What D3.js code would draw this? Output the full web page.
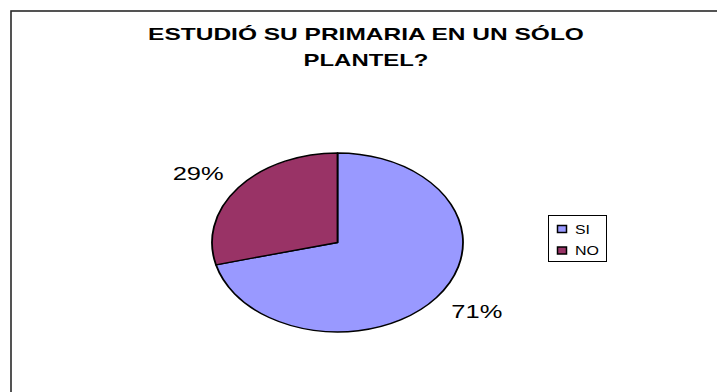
<!DOCTYPE html>
<html>
<head>
<meta charset="utf-8">
<script src="https://cdn.jsdelivr.net/npm/d3@7"></script>
<style>
  html, body { margin: 0; padding: 0; background: #fff; }
  svg { display: block; font-family: "Liberation Sans", Arial, sans-serif; }
</style>
</head>
<body>
<svg id="chart" width="717" height="392"></svg>
<script>
// Survey answers: share of respondents (percent)
const categories = ["SI", "NO"];
const values = [71, 29];
const colors = ["#9999FF", "#993366"];
const titleLines = ["ESTUDIÓ SU PRIMARIA EN UN SÓLO", "PLANTEL?"];

const svg = d3.select("#chart");

// Stretch a text element horizontally so it spans `width` px, centred on x
function fitWidth(sel, x, y, width) {
  sel.each(function () {
    const natural = this.getComputedTextLength();
    const s = width / natural;
    d3.select(this)
      .attr("x", 0).attr("y", 0)
      .attr("text-anchor", "middle")
      .attr("transform", `translate(${x},${y}) scale(${s},1)`);
  });
}

// Chart area frame (runs off the right and bottom edges)
svg.append("rect")
  .attr("x", 11).attr("y", 11)
  .attr("width", 760).attr("height", 440)
  .attr("fill", "#fff")
  .attr("stroke", "#2a2a2a")
  .attr("stroke-width", 1.6);

// Title
const titleWidths = [436, 125];
svg.append("g").selectAll("text")
  .data(titleLines)
  .join("text")
  .attr("font-size", 16.5)
  .attr("font-weight", "bold")
  .attr("fill", "#000")
  .text(d => d)
  .each(function (d, i) {
    fitWidth(d3.select(this), 366, 40 + i * 26.4, titleWidths[i]);
  });

// Pie, drawn as a circle and stretched horizontally into an ellipse
const cx = 337.5, cy = 242.5, rx = 125.5, ry = 89.5;
const pie = d3.pie().sort(null).value(d => d.value);
const arcs = pie(categories.map((c, i) => ({ cat: c, value: values[i], color: colors[i] })));
const arc = d3.arc().innerRadius(0).outerRadius(ry);

svg.append("g")
  .attr("transform", `translate(${cx},${cy}) scale(${rx / ry},1)`)
  .selectAll("path")
  .data(arcs)
  .join("path")
  .attr("d", arc)
  .attr("fill", d => d.data.color)
  .attr("stroke", "#000")
  .attr("stroke-width", 1.3)
  .attr("stroke-linejoin", "round");

// Percentage labels placed outside each slice along its mid-angle
const kx = 1.405, ky = 1.25;
svg.append("g").selectAll("text")
  .data(arcs)
  .join("text")
  .attr("font-size", 18)
  .attr("fill", "#000")
  .text(d => d.data.value + "%")
  .each(function (d) {
    const a = (d.startAngle + d.endAngle) / 2;
    fitWidth(d3.select(this),
      cx + Math.sin(a) * rx * kx,
      cy - Math.cos(a) * ry * ky + 6.5,
      51);
  });

// Legend
const legend = svg.append("g");
legend.append("rect")
  .attr("x", 548.5).attr("y", 215.5)
  .attr("width", 58).attr("height", 46)
  .attr("fill", "#fff")
  .attr("stroke", "#000")
  .attr("stroke-width", 1);

const items = legend.selectAll("g.item")
  .data(arcs)
  .join("g")
  .attr("class", "item")
  .attr("transform", (d, i) => `translate(0,${i * 21.5})`);

items.append("rect")
  .attr("x", 557.5).attr("y", 225.5)
  .attr("width", 9).attr("height", 7)
  .attr("fill", d => d.data.color)
  .attr("stroke", "#000")
  .attr("stroke-width", 1.5);

items.append("text")
  .attr("font-size", 12.5)
  .attr("fill", "#000")
  .text(d => d.data.cat)
  .each(function (d) {
    const w = d.data.cat === "SI" ? 15 : 24;
    fitWidth(d3.select(this), 575 + w / 2, 233.5, w);
  });
</script>
</body>
</html>
